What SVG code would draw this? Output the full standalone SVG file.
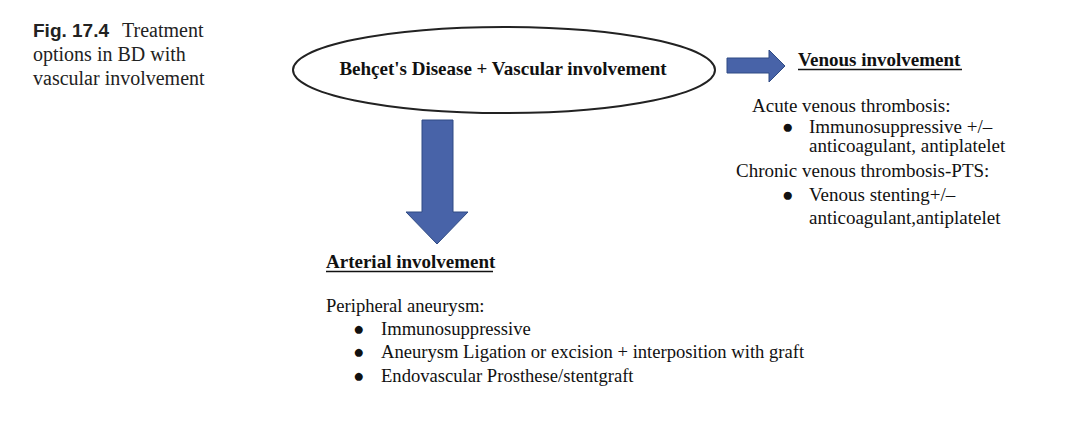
<svg xmlns="http://www.w3.org/2000/svg" width="1068" height="424" viewBox="0 0 1068 424">
<style>
.t{font-family:"Liberation Serif","Times New Roman",serif;font-size:19px;fill:#111}
.s{font-size:18.6px}
.b{font-weight:bold}
.cap{font-family:"Liberation Serif","Times New Roman",serif;font-size:20px;fill:#222}
.capb{font-family:"Liberation Sans",Arial,sans-serif;font-size:19px;font-weight:bold;fill:#222}
.arr{fill:#4863a8;stroke:#2f4b84;stroke-width:1}
.ul{stroke:#111;stroke-width:1.5}
</style>
<rect width="1068" height="424" fill="#fff"/>
<g id="caption">
<text x="33" y="37"><tspan class="capb">Fig. 17.4</tspan><tspan class="cap" dx="13">Treatment</tspan></text>
<text class="cap" x="33" y="61">options in BD with</text>
<text class="cap" x="33" y="85">vascular involvement</text>
</g>
<g id="main">
<ellipse cx="504" cy="70" rx="211" ry="43" fill="#fff" stroke="#222" stroke-width="2"/>
<text class="t b" x="503" y="75" text-anchor="middle">Behçet's Disease + Vascular involvement</text>
</g>
<g id="connectors">
<polygon class="arr" points="727,58 769,58 769,50 785,66 769,82 769,73 727,73"/>
<polygon class="arr" points="422,120 453,120 453,212 468,212 437,244 406,212 422,212"/>
</g>
<g id="venous">
<text class="t b" x="798" y="66">Venous involvement</text>
<line class="ul" x1="798" y1="69.5" x2="962" y2="69.5"/>
<text class="t" x="752" y="112">Acute venous thrombosis:</text>
<text class="t" x="782" y="133">●</text>
<text class="t" x="809" y="133">Immunosuppressive +/–</text>
<text class="t" x="809" y="152">anticoagulant, antiplatelet</text>
<text class="t" x="736" y="177">Chronic venous thrombosis-PTS:</text>
<text class="t" x="782" y="201">●</text>
<text class="t" x="809" y="201">Venous stenting+/–</text>
<text class="t" x="809" y="224">anticoagulant,antiplatelet</text>
</g>
<g id="arterial">
<text class="t b" x="326" y="268">Arterial involvement</text>
<line class="ul" x1="326" y1="271.5" x2="493" y2="271.5"/>
<text class="t s" x="326" y="312">Peripheral aneurysm:</text>
<text class="t s" x="353" y="335">●</text>
<text class="t s" x="381" y="335">Immunosuppressive</text>
<text class="t s" x="353" y="358">●</text>
<text class="t s" x="381" y="358">Aneurysm Ligation or excision + interposition with graft</text>
<text class="t s" x="353" y="382">●</text>
<text class="t s" x="381" y="382">Endovascular Prosthese/stentgraft</text>
</g>
</svg>
